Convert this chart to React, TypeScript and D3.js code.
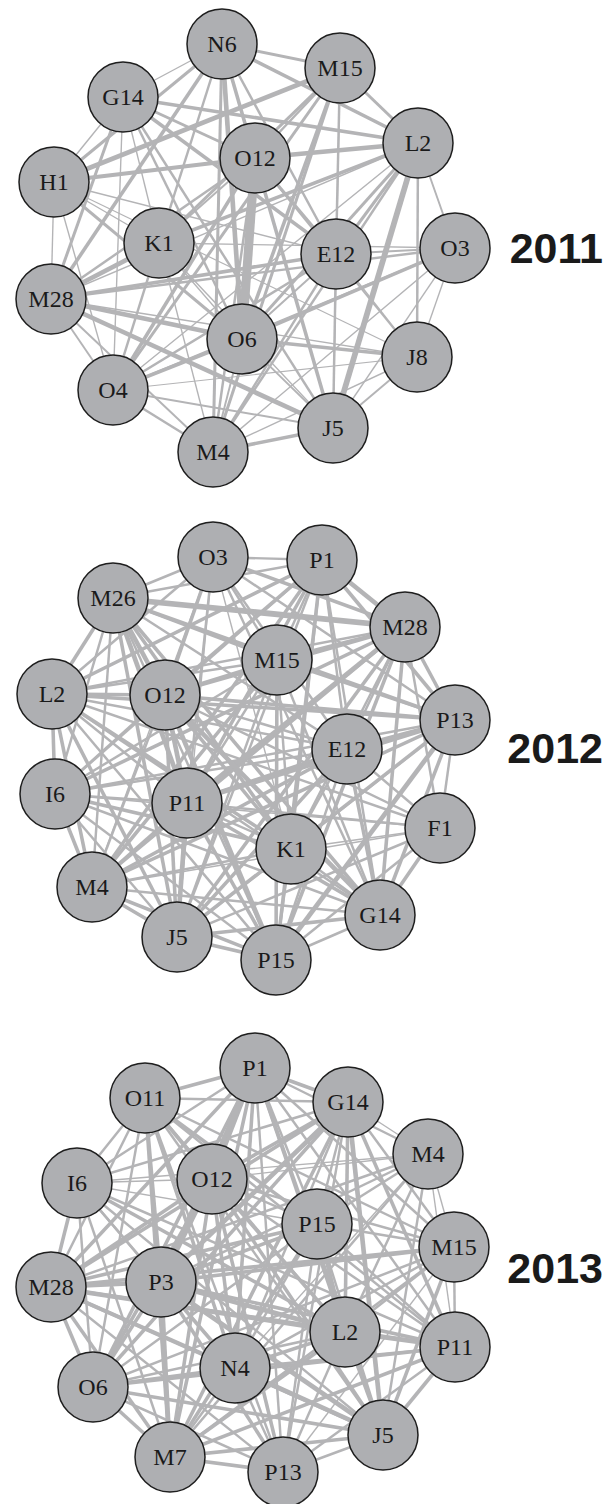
import { scaleLinear } from "d3";

// layout coordinates of the nodes, per year (units of the layout, panel-relative)
const nodes2011: [string, number, number][] = [
  ["N6", 222, 44], ["M15", 340, 68], ["G14", 123, 97], ["L2", 418, 143],
  ["O12", 255, 158], ["H1", 54, 182], ["K1", 159, 243], ["E12", 336, 254],
  ["O3", 455, 248], ["M28", 51, 299], ["O6", 242, 339], ["J8", 417, 357],
  ["O4", 113, 390], ["J5", 333, 428], ["M4", 213, 452],
];

const nodes2012: [string, number, number][] = [
  ["O3", 213, 57], ["P1", 322, 60], ["M26", 113, 98], ["M28", 405, 127],
  ["M15", 277, 160], ["L2", 52, 194], ["O12", 165, 195], ["P13", 455, 220],
  ["E12", 347, 249], ["I6", 55, 294], ["P11", 187, 303], ["F1", 440, 328],
  ["K1", 291, 349], ["M4", 92, 387], ["G14", 380, 415], ["J5", 177, 437],
  ["P15", 276, 460],
];

const nodes2013: [string, number, number][] = [
  ["P1", 255, 48], ["O11", 145, 78], ["G14", 348, 82], ["M4", 428, 134],
  ["I6", 77, 163], ["O12", 212, 159], ["P15", 317, 204], ["M15", 454, 227],
  ["M28", 51, 267], ["P3", 161, 262], ["L2", 345, 312], ["P11", 455, 327],
  ["N4", 235, 348], ["O6", 93, 367], ["J5", 383, 415], ["M7", 170, 437],
  ["P13", 283, 452],
];

// weighted links [source, target, weight]
const links2011: [string, string, number][] = [
  ["O12", "O6", 8], ["L2", "J5", 5], ["N6", "O12", 3], ["N6", "O6", 4], ["N6", "M4", 2.5],
  ["H1", "M15", 4], ["H1", "O12", 3.5], ["H1", "N6", 2.5], ["H1", "G14", 1],
  ["G14", "L2", 3], ["G14", "E12", 3], ["G14", "O12", 2.5], ["G14", "O6", 2],
  ["G14", "M28", 2.5], ["G14", "J5", 2], ["G14", "K1", 1], ["G14", "O4", 1],
  ["M15", "O12", 2], ["M15", "K1", 2.5], ["M15", "O6", 3], ["M15", "M4", 2.5],
  ["M15", "E12", 2], ["M15", "L2", 2.5], ["M15", "J5", 1], ["M15", "O4", 2.5],
  ["N6", "M15", 2.5], ["N6", "L2", 3], ["N6", "E12", 2], ["N6", "G14", 1],
  ["N6", "M28", 3], ["N6", "K1", 2], ["N6", "J5", 1],
  ["O12", "L2", 4], ["O12", "E12", 2.5], ["O12", "J5", 3], ["O12", "O4", 3],
  ["O12", "M28", 2], ["O12", "J8", 1.5], ["O12", "K1", 1.5], ["O12", "M4", 2],
  ["L2", "K1", 3], ["L2", "E12", 2.5], ["L2", "O6", 2.5], ["L2", "M4", 2],
  ["L2", "O3", 1.5], ["L2", "J8", 2], ["L2", "M28", 1], ["L2", "O4", 1],
  ["K1", "M28", 4], ["K1", "O4", 2], ["K1", "O3", 1], ["K1", "J5", 1],
  ["K1", "H1", 1], ["K1", "M4", 1], ["K1", "O6", 1],
  ["H1", "O6", 2.5], ["H1", "M28", 1], ["H1", "O4", 1], ["H1", "E12", 1], ["H1", "J8", 0.8],
  ["M28", "O6", 4], ["M28", "J5", 4], ["M28", "E12", 3], ["M28", "O3", 2],
  ["M28", "O4", 1.5], ["M28", "M4", 1.5], ["M28", "J8", 1],
  ["E12", "J5", 2], ["E12", "O4", 2], ["E12", "M4", 2], ["E12", "O3", 1.5],
  ["E12", "O6", 1.5], ["E12", "J8", 1],
  ["O3", "O6", 3], ["O3", "J8", 1], ["O3", "J5", 1], ["O3", "M4", 1], ["O3", "O4", 1],
  ["O6", "J8", 3], ["O6", "O4", 3], ["O6", "J5", 1.5], ["O6", "M4", 1.5],
  ["J8", "J5", 1.5], ["J8", "M4", 1], ["J8", "O4", 0.8],
  ["J5", "M4", 3], ["J5", "O4", 1.5], ["O4", "M4", 2],
];

const links2012: [string, string, number][] = [
  ["M26", "M28", 5], ["M26", "P13", 3], ["M26", "O12", 4], ["M26", "P11", 4],
  ["M26", "J5", 3], ["M26", "L2", 3], ["M26", "I6", 2], ["M26", "M4", 2],
  ["M26", "K1", 3], ["M26", "G14", 3], ["M26", "P15", 2], ["M26", "E12", 2],
  ["M26", "M15", 2], ["M26", "O3", 2], ["M26", "P1", 2],
  ["O3", "P1", 2], ["O3", "M28", 3], ["O3", "M15", 2], ["O3", "E12", 2],
  ["O3", "K1", 1], ["O3", "L2", 2], ["O3", "O12", 3], ["O3", "P13", 2],
  ["O3", "G14", 2], ["O3", "P11", 2], ["O3", "M4", 1], ["O3", "J5", 1],
  ["P1", "M28", 4], ["P1", "P13", 3], ["P1", "M15", 2], ["P1", "O12", 3],
  ["P1", "P11", 3], ["P1", "L2", 3], ["P1", "I6", 2], ["P1", "M4", 3],
  ["P1", "J5", 2], ["P1", "K1", 2], ["P1", "G14", 2], ["P1", "P15", 3], ["P1", "E12", 2],
  ["M28", "M15", 3], ["M28", "O12", 3], ["M28", "L2", 2], ["M28", "P11", 4],
  ["M28", "I6", 3], ["M28", "M4", 3], ["M28", "J5", 3], ["M28", "P15", 3],
  ["M28", "K1", 2], ["M28", "G14", 3], ["M28", "E12", 2], ["M28", "F1", 2], ["M28", "P13", 3],
  ["M15", "O12", 3], ["M15", "L2", 2], ["M15", "P11", 2], ["M15", "M4", 3],
  ["M15", "J5", 2], ["M15", "P15", 3], ["M15", "G14", 2], ["M15", "K1", 2],
  ["M15", "P13", 2], ["M15", "I6", 2],
  ["L2", "O12", 3], ["L2", "P13", 3], ["L2", "I6", 3], ["L2", "M4", 3],
  ["L2", "J5", 3], ["L2", "P15", 2], ["L2", "P11", 2], ["L2", "K1", 3],
  ["L2", "G14", 2], ["L2", "E12", 2], ["L2", "F1", 2],
  ["O12", "P11", 4], ["O12", "J5", 3], ["O12", "P15", 4], ["O12", "K1", 3],
  ["O12", "G14", 4], ["O12", "E12", 2], ["O12", "P13", 3], ["O12", "F1", 2],
  ["O12", "I6", 2], ["O12", "M4", 2],
  ["P13", "E12", 3], ["P13", "P11", 4], ["P13", "I6", 2], ["P13", "M4", 3],
  ["P13", "J5", 3], ["P13", "P15", 4], ["P13", "G14", 3], ["P13", "F1", 2], ["P13", "K1", 2],
  ["E12", "P11", 3], ["E12", "I6", 2], ["E12", "M4", 3], ["E12", "J5", 3],
  ["E12", "P15", 2], ["E12", "G14", 3], ["E12", "K1", 2], ["E12", "F1", 2],
  ["I6", "P11", 2], ["I6", "K1", 3], ["I6", "G14", 2], ["I6", "M4", 3],
  ["I6", "J5", 2], ["I6", "P15", 2], ["I6", "F1", 1],
  ["P11", "K1", 2], ["P11", "F1", 2], ["P11", "G14", 3], ["P11", "M4", 2],
  ["P11", "J5", 4], ["P11", "P15", 3],
  ["F1", "K1", 1], ["F1", "G14", 3], ["F1", "J5", 2], ["F1", "M4", 1], ["F1", "P15", 2],
  ["K1", "G14", 2], ["K1", "M4", 2], ["K1", "J5", 2], ["K1", "P15", 1],
  ["M4", "J5", 3], ["M4", "P15", 3], ["M4", "G14", 2],
  ["G14", "J5", 3], ["G14", "P15", 2], ["J5", "P15", 3],
];

const links2013: [string, string, number][] = [
  ["P1", "O11", 3], ["P1", "G14", 3], ["P1", "O12", 4], ["P1", "P3", 4],
  ["P1", "M28", 3], ["P1", "N4", 3], ["P1", "M7", 3], ["P1", "O6", 3],
  ["P1", "L2", 3], ["P1", "J5", 3], ["P1", "P13", 2], ["P1", "P15", 2],
  ["P1", "M15", 2], ["P1", "I6", 2], ["P1", "M4", 2], ["P1", "P11", 2],
  ["O11", "G14", 2], ["O11", "O12", 3], ["O11", "P3", 3], ["O11", "I6", 2],
  ["O11", "M28", 2], ["O11", "N4", 3], ["O11", "O6", 2], ["O11", "M7", 3],
  ["O11", "L2", 2], ["O11", "J5", 2], ["O11", "P15", 3], ["O11", "P13", 2],
  ["O11", "M15", 2], ["O11", "P11", 2],
  ["G14", "O12", 3], ["G14", "P15", 2], ["G14", "P3", 4], ["G14", "M28", 3],
  ["G14", "O6", 3], ["G14", "M7", 3], ["G14", "N4", 2], ["G14", "L2", 3],
  ["G14", "J5", 4], ["G14", "P11", 3], ["G14", "M15", 2], ["G14", "M4", 1],
  ["G14", "I6", 2], ["G14", "P13", 2],
  ["M4", "P15", 2], ["M4", "M15", 1], ["M4", "P3", 2], ["M4", "L2", 2],
  ["M4", "J5", 2], ["M4", "N4", 1], ["M4", "O12", 1], ["M4", "I6", 1],
  ["M4", "M28", 2], ["M4", "P11", 1], ["M4", "M7", 2],
  ["I6", "O12", 1], ["I6", "P3", 2], ["I6", "M28", 3], ["I6", "N4", 2],
  ["I6", "O6", 2], ["I6", "M7", 2], ["I6", "L2", 3], ["I6", "J5", 2],
  ["I6", "P11", 2], ["I6", "P15", 1],
  ["O12", "P3", 4], ["O12", "M28", 3], ["O12", "O6", 3], ["O12", "M7", 3],
  ["O12", "N4", 3], ["O12", "L2", 3], ["O12", "J5", 3], ["O12", "P13", 3],
  ["O12", "P11", 2], ["O12", "M15", 2], ["O12", "P15", 2],
  ["P15", "P3", 3], ["P15", "M28", 3], ["P15", "O6", 2], ["P15", "M7", 3],
  ["P15", "N4", 2], ["P15", "L2", 3], ["P15", "J5", 2], ["P15", "P11", 2],
  ["P15", "P13", 2], ["P15", "M15", 2],
  ["M15", "P3", 3], ["M15", "M28", 3], ["M15", "L2", 2], ["M15", "P11", 2],
  ["M15", "J5", 3], ["M15", "N4", 2], ["M15", "O6", 2], ["M15", "M7", 2], ["M15", "P13", 1],
  ["M28", "P3", 4], ["M28", "O6", 3], ["M28", "M7", 3], ["M28", "N4", 3],
  ["M28", "L2", 4], ["M28", "P11", 3], ["M28", "J5", 3], ["M28", "P13", 2],
  ["P3", "L2", 4], ["P3", "P11", 3], ["P3", "N4", 3], ["P3", "O6", 3],
  ["P3", "M7", 4], ["P3", "J5", 4], ["P3", "P13", 3],
  ["L2", "P11", 4], ["L2", "N4", 3], ["L2", "O6", 2], ["L2", "M7", 3],
  ["L2", "J5", 3], ["L2", "P13", 2],
  ["P11", "N4", 2], ["P11", "O6", 3], ["P11", "M7", 3], ["P11", "J5", 3], ["P11", "P13", 2],
  ["N4", "O6", 3], ["N4", "M7", 2], ["N4", "J5", 4], ["N4", "P13", 2],
  ["O6", "M7", 3], ["O6", "J5", 3], ["O6", "P13", 2],
  ["J5", "M7", 3], ["J5", "P13", 2], ["M7", "P13", 3],
];

const years = ["2011", "2012", "2013"];
const panelTops = [0, 500, 1020];
const allNodes = [nodes2011, nodes2012, nodes2013];
const allLinks = [links2011, links2012, links2013];

const W = 616;
const H = 1504;
const R = 35;

const x = scaleLinear().domain([0, 500]).range([0, 500]);
const width = scaleLinear().domain([0, 8]).range([0.3, 9]);

function Network({ nodes, links, top, year }: {
  nodes: [string, number, number][];
  links: [string, string, number][];
  top: number;
  year: string;
}) {
  const y = scaleLinear().domain([0, 480]).range([top, top + 480]);
  const pos = new Map(nodes.map(([id, nx, ny]) => [id, [x(nx), y(ny)]]));
  const sorted = [...links].sort((a, b) => a[2] - b[2]);
  return (
    <g>
      <g stroke="#b4b4b6" strokeLinecap="butt">
        {sorted.map(([s, t, w], i) => {
          const a = pos.get(s)!;
          const b = pos.get(t)!;
          return (
            <line key={i} x1={a[0]} y1={a[1]} x2={b[0]} y2={b[1]} strokeWidth={width(w)} />
          );
        })}
      </g>
      {nodes.map(([id]) => {
        const p = pos.get(id)!;
        return (
          <g key={id} transform={`translate(${p[0]},${p[1]})`}>
            <circle r={R} fill="#aeafb2" stroke="#1e1e1e" strokeWidth={1.5} />
            <text
              textAnchor="middle"
              dy="0.34em"
              fontFamily="'Liberation Serif', serif"
              fontSize={24}
              fill="#1a1a1a"
            >
              {id}
            </text>
          </g>
        );
      })}
      <text
        x={603}
        y={y(248)}
        dy="0.36em"
        textAnchor="end"
        fontFamily="'Liberation Sans', Arial, sans-serif"
        fontWeight="bold"
        fontSize={43}
        fill="#1a1a1a"
      >
        {year}
      </text>
    </g>
  );
}

export default function App() {
  return (
    <svg
      width={W}
      height={H}
      style={{ position: "absolute", left: 0, top: 0, background: "#fff" }}
    >
      {years.map((yr, i) => (
        <Network key={yr} nodes={allNodes[i]} links={allLinks[i]} top={panelTops[i]} year={yr} />
      ))}
    </svg>
  );
}
